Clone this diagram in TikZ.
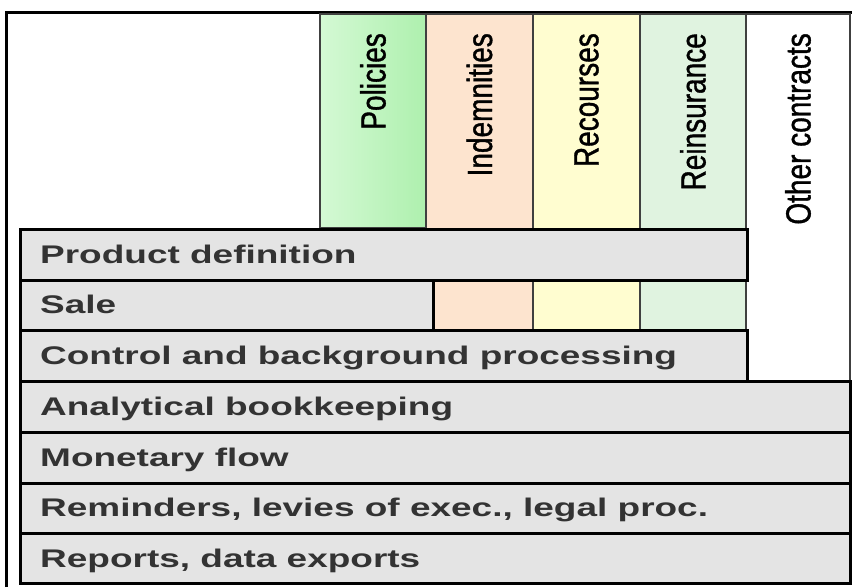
\documentclass[tikz,border=0pt]{standalone}
\usepackage{fontspec}
\setmainfont{Liberation Sans}
\newfontfamily\rowfont{Liberation Sans}[FakeStretch=1.45]
\newfontfamily\headfont{Liberation Sans}[FakeStretch=0.8,FakeBold=1]
\definecolor{polA}{HTML}{D4F9D4}
\definecolor{polB}{HTML}{AEF0AE}
\definecolor{indem}{HTML}{FDE4CF}
\definecolor{recour}{HTML}{FFFDD0}
\definecolor{reins}{HTML}{E0F3E0}
\definecolor{rowgray}{HTML}{E4E4E4}
\definecolor{textgray}{HTML}{333333}

\begin{document}
\begin{tikzpicture}[x=1pt,y=-1pt,
	column/.style={draw=black!75, line width=1.2pt},
	rowbox/.style={draw=black, line width=3pt, fill=rowgray},
	rowtext/.style={anchor=base west, text=textgray, inner sep=0pt,
		font=\rowfont\bfseries\fontsize{25.5}{30}\selectfont},
	headtext/.style={anchor=east, rotate=90, inner sep=0pt,
		font=\headfont\fontsize{35}{40}\selectfont}]
\useasboundingbox (0,0) rectangle (852,587);
	\draw[line width=3pt] (6,587) -- (6,12) -- (852,12);
	\draw[column, left color=polA, right color=polB] (320,14) rectangle (426,228);
	\draw[column, fill=indem] (426,14) rectangle (533,330);
	\draw[column, fill=recour] (533,14) rectangle (640,330);
	\draw[column, fill=reins] (640,14) rectangle (746,330);
	\draw[column, fill=white] (746,14) rectangle (850,381);
	\node[headtext] (pol) at (373,33) {Policies};
	\node[headtext] (ind) at (479.5,33) {Indemnities};
	\node[headtext] (rec) at (586.5,33) {Recourses};
	\node[headtext] (rei) at (693,33) {Reinsurance};
	\node[headtext] (oth) at (798,33) {Other contracts};
	\draw[rowbox] (20,229) rectangle (747,280);
	\draw[rowbox] (20,280) rectangle (433,330);
	\draw[rowbox] (20,330) rectangle (747,381);
	\draw[rowbox] (20,381) rectangle (850,432);
	\draw[rowbox] (20,432) rectangle (850,483);
	\draw[rowbox] (20,483) rectangle (850,533);
	\draw[rowbox] (20,533) rectangle (850,583);
	\node[rowtext] (prod) at (40,263) {Product definition};
	\node[rowtext] (sale) at (40,313) {Sale};
	\node[rowtext] (ctrl) at (40,364) {Control and background processing};
	\node[rowtext] (anal) at (40,415) {Analytical bookkeeping};
	\node[rowtext] (mone) at (40,466) {Monetary flow};
	\node[rowtext] (remi) at (40,516) {Reminders, levies of exec., legal proc.};
	\node[rowtext] (repo) at (40,567) {Reports, data exports};
\end{tikzpicture}
\end{document}
